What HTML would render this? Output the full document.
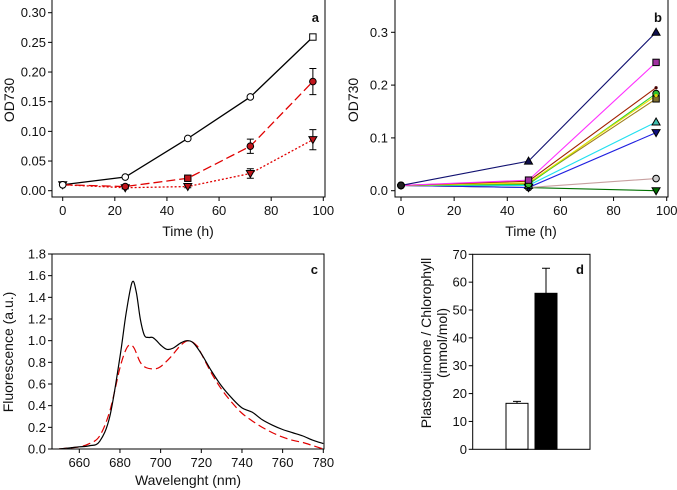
<!DOCTYPE html>
<html><head><meta charset="utf-8"><style>
html,body{margin:0;padding:0;background:#fff}
svg{display:block;font-family:"Liberation Sans",Arial,sans-serif}
</style></head><body>
<svg id="s" width="677" height="490" viewBox="0 0 677 490"></svg>
<script>
// Panel a data
const aTimes=[0,24,48,72,96];
const aCtrl=[0.010,0.023,0.088,0.158,0.259];
const aMutA=[0.010,0.007,0.021,0.075,0.184];
const aMutAErr=[0,0.002,0.003,0.012,0.022];
const aMutB=[0.010,0.005,0.007,0.029,0.086];
const aMutBErr=[0,0.002,0.002,0.008,0.017];
const aXTicks=[0,20,40,60,80,100];
const aYTicks=["0.00","0.05","0.10","0.15","0.20","0.25","0.30"];
// Panel b data
const bTimes=[0,48,96];
const bNavy=[0.010,0.056,0.300];
const bMagenta=[0.010,0.020,0.243];
const bBrown=[0.010,0.018,0.195];
const bYellow=[0.010,0.015,0.180];
const bGreen=[0.010,0.012,0.184];
const bOlive=[0.010,0.014,0.174];
const bCyan=[0.010,0.010,0.130];
const bBlue=[0.010,0.006,0.110];
const bRosy=[0.010,0.006,0.023];
const bDkGreen=[0.010,0.006,0.000];
const bYTicks=["0.0","0.1","0.2","0.3"];
// Panel c data
const cWl=[650,655,660,665,670,675,680,683,686,688,690,692,694,696,698,700,703,706,710,713,716,720,725,730,735,740,745,750,755,760,765,770,775,780];
const cBlack=[0,0.01,0.02,0.03,0.07,0.3,0.85,1.25,1.54,1.45,1.2,1.05,1.03,1.03,1.0,0.96,0.92,0.93,0.98,1.0,0.98,0.88,0.72,0.58,0.47,0.38,0.34,0.27,0.22,0.18,0.15,0.12,0.08,0.05];
const cWlR=[650,655,660,665,670,675,680,683,685,687,690,693,697,700,705,710,714,718,720,725,730,735,740,745,750,755,760,765,770,775,780];
const cRed=[0,0.01,0.02,0.05,0.12,0.35,0.75,0.92,0.96,0.93,0.8,0.75,0.74,0.76,0.85,0.96,1.0,0.95,0.88,0.7,0.55,0.43,0.33,0.26,0.2,0.15,0.11,0.08,0.06,0.03,0.0];
const cXTicks=[660,680,700,720,740,760,780];
const cYTicks=["0.0","0.2","0.4","0.6","0.8","1.0","1.2","1.4","1.6","1.8"];
// Panel d data
const dValues=[16.5,56];
const dErr=[0.7,9];
const dYTicks=[0,10,20,30,40,50,60,70];

const S=document.getElementById('s');const NS='http://www.w3.org/2000/svg';
const FT=13,FA=14;
function el(t,a,p){const e=document.createElementNS(NS,t);for(const k in a)e.setAttribute(k,a[k]);(p||S).appendChild(e);return e;}
function txt(x,y,s,a){const e=el('text',Object.assign({x:x,y:y,'font-size':FT,fill:'#111'},a||{}));e.textContent=s;return e;}
function lin(d0,d1,r0,r1){return v=>r0+(v-d0)/(d1-d0)*(r1-r0);}
function frame(g,l,t,r,b){el('rect',{x:l,y:t,width:r-l,height:b-t,fill:'none',stroke:'#000','stroke-width':1},g);}
function smooth(pts){let d='M'+pts[0][0]+','+pts[0][1];for(let i=0;i<pts.length-1;i++){const p0=pts[i-1]||pts[i],p1=pts[i],p2=pts[i+1],p3=pts[i+2]||p2;const c1x=p1[0]+(p2[0]-p0[0])/6,c1y=p1[1]+(p2[1]-p0[1])/6,c2x=p2[0]-(p3[0]-p1[0])/6,c2y=p2[1]-(p3[1]-p1[1])/6;d+=`C${c1x},${c1y} ${c2x},${c2y} ${p2[0]},${p2[1]}`;}return d;}
function marker(g,type,x,y,fill,stroke){
  let m;
  if(type==='c')m=el('circle',{cx:x,cy:y,r:3.3,fill:fill,stroke:stroke||'#000','stroke-width':1},g);
  else if(type==='s')m=el('rect',{x:x-3.2,y:y-3.2,width:6.4,height:6.4,fill:fill,stroke:stroke||'#000','stroke-width':1},g);
  else if(type==='t')m=el('path',{d:`M${x},${y-4}L${x+4},${y+3}L${x-4},${y+3}Z`,fill:fill,stroke:stroke||'#000','stroke-width':1},g);
  else if(type==='v')m=el('path',{d:`M${x},${y+4}L${x+4},${y-3}L${x-4},${y-3}Z`,fill:fill,stroke:stroke||'#000','stroke-width':1},g);
  else m=el('circle',{cx:x,cy:y,r:1.6,fill:fill,stroke:'none'},g);
  
  
}
function errbar(g,x,y1,y2){el('path',{d:`M${x},${y1}V${y2}M${x-3.5},${y1}h7M${x-3.5},${y2}h7`,stroke:'#000','stroke-width':1,fill:'none'},g);}

// ---------- Panel a
(function(){
const g=el('g',{});
const X=lin(0,100,62.7,323.3),Y=lin(0,0.3,190.7,12.7);
frame(g,52,-1,325,197);
aXTicks.forEach(v=>{el('line',{x1:X(v),x2:X(v),y1:197,y2:201,stroke:'#000'},g);const t=txt(X(v),215,String(v),{'text-anchor':'middle'});g.appendChild(t);});
aYTicks.forEach(s=>{const v=+s;el('line',{x1:48,x2:52,y1:Y(v),y2:Y(v),stroke:'#000'},g);const t=txt(46,Y(v)+4.5,s,{'text-anchor':'end'});g.appendChild(t);});
const xt=txt(188,236,'Time (h)',{'text-anchor':'middle','font-size':FA});g.appendChild(xt);
const yt=txt(0,0,'OD730',{'text-anchor':'middle','font-size':FA,transform:'translate(14,100) rotate(-90)'});g.appendChild(yt);
const pl=txt(319,22,'a',{'text-anchor':'end','font-weight':'bold','font-size':FT});g.appendChild(pl);
function series(vals,stroke,dash,name){const p=el('polyline',{points:aTimes.map((t,i)=>X(t)+','+Y(vals[i])).join(' '),fill:'none',stroke:stroke,'stroke-width':1.3,'stroke-dasharray':dash},g);}
series(aCtrl,'#000','none','series-control');
series(aMutA,'#e00000','9,4','series-dashed');
series(aMutB,'#e00000','2,2','series-dotted');
aTimes.forEach((t,i)=>{if(aMutAErr[i])errbar(g,X(t),Y(aMutA[i]+aMutAErr[i]),Y(aMutA[i]-aMutAErr[i]));if(aMutBErr[i])errbar(g,X(t),Y(aMutB[i]+aMutBErr[i]),Y(aMutB[i]-aMutBErr[i]));});
aTimes.forEach((t,i)=>{marker(g,'v',X(t),Y(aMutB[i]),'#c0151b');marker(g,i==2?'s':'c',X(t),Y(aMutA[i]),'#c0151b');marker(g,i==4?'s':'c',X(t),Y(aCtrl[i]),'#fff');});
})();

// ---------- Panel b
(function(){
const g=el('g',{});
const X=lin(0,100,401,666.7),Y=lin(0,0.3,190.7,32.3);
frame(g,395,-1,668,197);
aXTicks.forEach(v=>{el('line',{x1:X(v),x2:X(v),y1:197,y2:201,stroke:'#000'},g);const t=txt(X(v),215,String(v),{'text-anchor':'middle'});g.appendChild(t);});
bYTicks.forEach(s=>{const v=+s;el('line',{x1:391,x2:395,y1:Y(v),y2:Y(v),stroke:'#000'},g);const t=txt(388,Y(v)+4.5,s,{'text-anchor':'end'});g.appendChild(t);});
const xt=txt(531,236,'Time (h)',{'text-anchor':'middle','font-size':FA});g.appendChild(xt);
const yt=txt(0,0,'OD730',{'text-anchor':'middle','font-size':FA,transform:'translate(358,100) rotate(-90)'});g.appendChild(yt);
const pl=txt(662,22,'b',{'text-anchor':'end','font-weight':'bold','font-size':FT});g.appendChild(pl);
const list=[[bDkGreen,'#007000','v','#007000'],[bRosy,'#c8a0a0','c','#ccc'],[bBlue,'#2020e0','v','#101080'],[bCyan,'#20e0f0','t','#40c0b0'],[bOlive,'#a08020','s','#807030'],[bGreen,'#30d030','c','#30c030'],[bYellow,'#f0e000','d','#e0d000'],[bBrown,'#a02000','d','#400'],[bMagenta,'#ff30ff','s','#a030a0'],[bNavy,'#101070','t','#101050']];
list.forEach(s=>{const p=el('polyline',{points:bTimes.map((t,i)=>X(t)+','+Y(s[0][i])).join(' '),fill:'none',stroke:s[1],'stroke-width':1.1},g);});
list.forEach(s=>{bTimes.forEach((t,i)=>marker(g,i==0?'c':s[2],X(t),Y(s[0][i]),i==0?'#222':s[3]));});
})();

// ---------- Panel c
(function(){
const g=el('g',{});
const X=lin(660,780,79.3,323.3),Y=lin(0,1.8,449,254);
frame(g,52,254,324,449);
cXTicks.forEach(v=>{el('line',{x1:X(v),x2:X(v),y1:449,y2:453,stroke:'#000'},g);const t=txt(X(v),467,String(v),{'text-anchor':'middle'});g.appendChild(t);});
cYTicks.forEach(s=>{const v=+s;el('line',{x1:48,x2:52,y1:Y(v),y2:Y(v),stroke:'#000'},g);const t=txt(46,Y(v)+4.5,s,{'text-anchor':'end'});g.appendChild(t);});
const xt=txt(188,485,'Wavelenght (nm)',{'text-anchor':'middle','font-size':FA});g.appendChild(xt);
const yt=txt(0,0,'Fluorescence (a.u.)',{'text-anchor':'middle','font-size':FA,transform:'translate(13,352) rotate(-90)'});g.appendChild(yt);
const pl=txt(318,274,'c',{'text-anchor':'end','font-weight':'bold','font-size':FT});g.appendChild(pl);
const cp=el('clipPath',{id:'cc'},g);el('rect',{x:52,y:254,width:272,height:195},cp);
const r=el('path',{d:smooth(cWlR.map((w,i)=>[X(w),Y(cRed[i])])),fill:'none',stroke:'#e00000','stroke-width':1.2,'stroke-dasharray':'8,4','clip-path':'url(#cc)'},g);
const b=el('path',{d:smooth(cWl.map((w,i)=>[X(w),Y(cBlack[i])])),fill:'none',stroke:'#000','stroke-width':1.2,'clip-path':'url(#cc)'},g);
})();

// ---------- Panel d
(function(){
const g=el('g',{});
const Y=lin(0,70,449.3,254.3);
const bx=[506,535],bw=22,fills=['#fff','#000'];
dValues.forEach((v,i)=>{el('path',{d:`M${bx[i]+bw/2},${Y(v)}V${Y(v+dErr[i])}M${bx[i]+bw/2-4},${Y(v+dErr[i])}h8`,stroke:'#000',fill:'none'},g);const r=el('rect',{x:bx[i],y:Y(v),width:bw,height:Y(0)-Y(v),fill:fills[i],stroke:'#000'},g);});
frame(g,472.7,254.3,590,449.3);
dYTicks.forEach(v=>{el('line',{x1:468.7,x2:472.7,y1:Y(v),y2:Y(v),stroke:'#000'},g);const t=txt(467,Y(v)+4.5,String(v),{'text-anchor':'end'});g.appendChild(t);});
const yt=txt(0,0,'Plastoquinone / Chlorophyll',{'text-anchor':'middle','font-size':FA,transform:'translate(431,343) rotate(-90)'});g.appendChild(yt);
const yt2=txt(0,0,'(mmol/mol)',{'text-anchor':'middle','font-size':FA,transform:'translate(447,343) rotate(-90)'});g.appendChild(yt2);
const pl=txt(584,274,'d',{'text-anchor':'end','font-weight':'bold','font-size':FT});g.appendChild(pl);
})();
</script>
</body></html>
